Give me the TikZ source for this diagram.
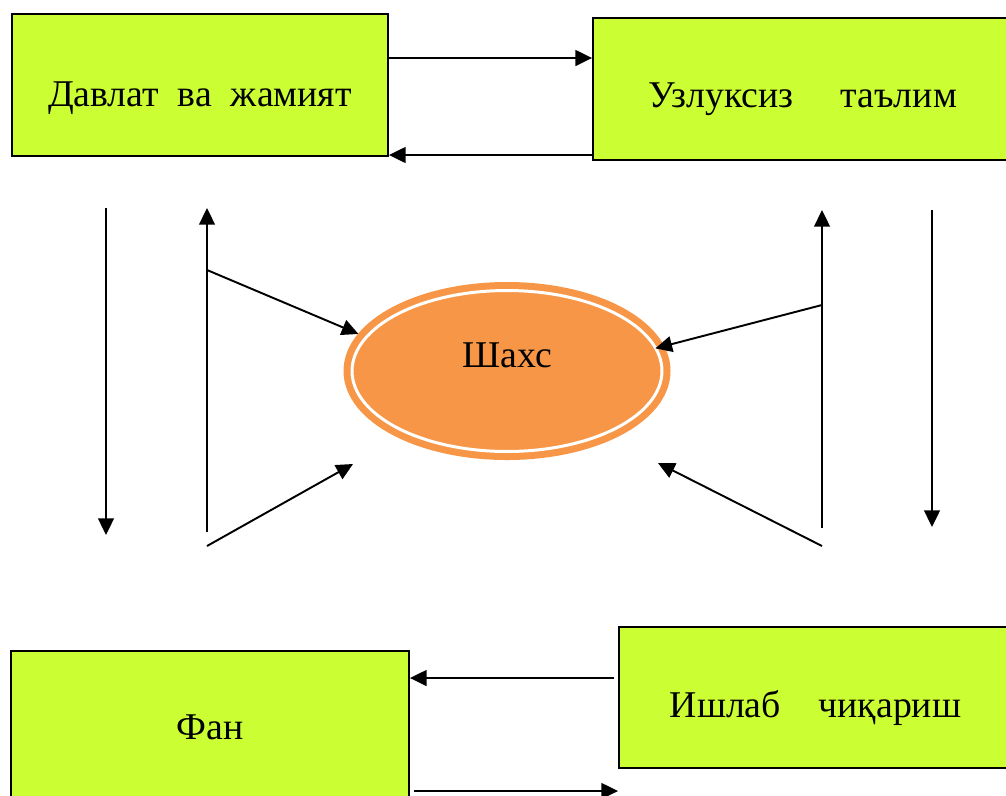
\documentclass[tikz,border=0pt]{standalone}
\usepackage{fontspec}
\setmainfont{Liberation Serif}
\usetikzlibrary{arrows.meta,shapes.geometric}
\definecolor{boxgreen}{RGB}{204,255,51}
\definecolor{shaxsorange}{RGB}{247,150,70}
\newcommand{\lowered}[2]{\raisebox{-#1}[\height][\depth]{#2}}

\begin{document}
\begin{tikzpicture}[x=0.02cm, y=-0.02cm,
                    >={Triangle[length=9.5pt,width=9pt]},
                    every node/.style={font=\fontsize{21.5}{25}\selectfont},
                    box/.style={draw=black, line width=1.1pt, fill=boxgreen, inner sep=0pt},
                    link/.style={->, line width=1.1pt}]
\useasboundingbox (0,0) rectangle (1006,795);
\node[box, minimum width=7.52cm, minimum height=2.84cm] (dav) at (200,85)  {\lowered{7.4pt}{Давлат~~ва~~жамият}};
\node[box, minimum width=8.38cm, minimum height=2.84cm] (uzl) at (802.5,89) {\lowered{5.7pt}{Узлуксиз~~~~~таълим}};
\node[box, minimum width=7.96cm, minimum height=2.98cm] (fan) at (210,725.5) {\lowered{1pt}{Фан}};
\node[box, minimum width=7.86cm, minimum height=2.82cm] (ish) at (815.5,697.5) {\lowered{5.7pt}{Ишлаб~~~~чиқариш}};
\node[ellipse, draw=shaxsorange, line width=4pt, double=white, double distance=1.7pt,
      fill=shaxsorange, minimum width=6.2cm, minimum height=3.22cm, inner sep=0pt,
      outer sep=4.8pt] (shx) at (507,371) {\raisebox{9pt}[\height][\depth]{Шахс}};
% free ends of the side arrows
\coordinate (lt) at (106,208);  \coordinate (lb) at (106,535);
\coordinate (lut) at (207,208); \coordinate (lub) at (207,532);
\coordinate (lm) at (207,270);  \coordinate (ll) at (207,546);
\coordinate (lle) at (353,464);
\coordinate (rut) at (822,210); \coordinate (rub) at (822,528);
\coordinate (rt) at (932,210);  \coordinate (rb) at (932,527);
\coordinate (rm) at (822,305);  \coordinate (rl) at (822,546);
\coordinate (rle) at (658,463);
% between the boxes
\draw[link] (dav.east |- 0,58) -- (uzl.west |- 0,58);
\draw[link] (uzl.west |- 0,155) -- (dav.east |- 0,155);
\draw[link] (614,678) -- (fan.east |- 0,678);
\draw[link] (414,791) -- (ish.west |- 0,791);
% left side
\draw[link] (lt) -- (lb);
\draw[link] (lub) -- (lut);
\draw[link] (lm) -- (shx.166);
\draw[link] (ll) -- (lle);
% right side
\draw[link] (rub) -- (rut);
\draw[link] (rt) -- (rb);
\draw[link, shorten >=-5pt] (rm) -- (shx.9);
\draw[link] (rl) -- (rle);
\end{tikzpicture}
\end{document}
